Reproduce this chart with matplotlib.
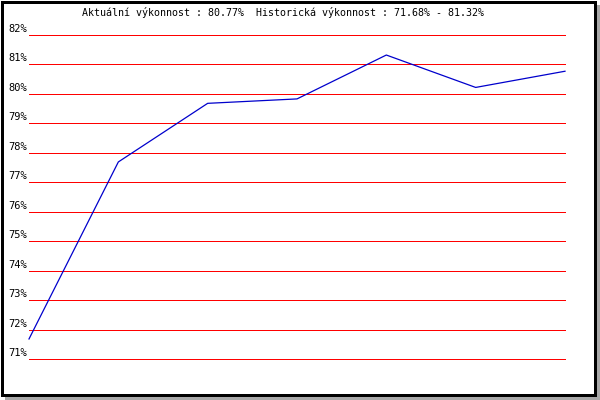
import matplotlib
matplotlib.use('Agg')
import matplotlib.pyplot as plt
from matplotlib.patches import Rectangle
from matplotlib.transforms import offset_copy

# performance values
points = [0, 1, 2, 3, 4, 5, 6]
values = [71.68, 77.69, 79.68, 79.83, 81.32, 80.22, 80.77]
levels = [71, 72, 73, 74, 75, 76, 77, 78, 79, 80, 81, 82]
title = 'Aktuální výkonnost : 80.77%  Historická výkonnost : 71.68% - 81.32%'

W, H = 600, 400

def fx(x):
    return x / W

def fy(y):
    return 1 - y / H

fig = plt.figure(figsize=(6, 4), dpi=100)
fig.patch.set_facecolor('white')

# shadow + frame
fig.add_artist(Rectangle((fx(5), fy(400)), fx(595), 395 / H, transform=fig.transFigure,
                         facecolor='#a8a8a8', edgecolor='none', zorder=0))
fig.add_artist(Rectangle((fx(1.5), fy(394.5)), fx(593), 393 / H, transform=fig.transFigure,
                         facecolor='white', edgecolor='black', linewidth=2.16, zorder=1))

ax = fig.add_axes([fx(29), fy(359), fx(565 - 29), (359 - 35) / H])
ax.set_zorder(2)
ax.patch.set_visible(False)
ax.set_xlim(0, 6)
ax.set_ylim(71, 82)
for s in ax.spines.values():
    s.set_visible(False)
ax.set_xticks([])
ax.set_yticks([])

lbl_tr = offset_copy(ax.get_yaxis_transform(), fig=fig, x=-2, y=6, units='dots')
for lv in levels:
    ax.axhline(lv, color='#ff0000', linewidth=0.72, zorder=1, clip_on=False)
    ax.text(0, lv, '%d%%' % lv, transform=lbl_tr,
            ha='right', va='center', fontsize=7.5, family='DejaVu Sans Mono', color='black')

ax.plot(points, values, color='#0000cc', linewidth=0.9, zorder=3, clip_on=False)

fig.text(fx(283), fy(13), title, ha='center', va='center', fontsize=7.2,
         family='DejaVu Sans Mono', color='black', zorder=3)

fig.savefig('out.png', dpi=100)
